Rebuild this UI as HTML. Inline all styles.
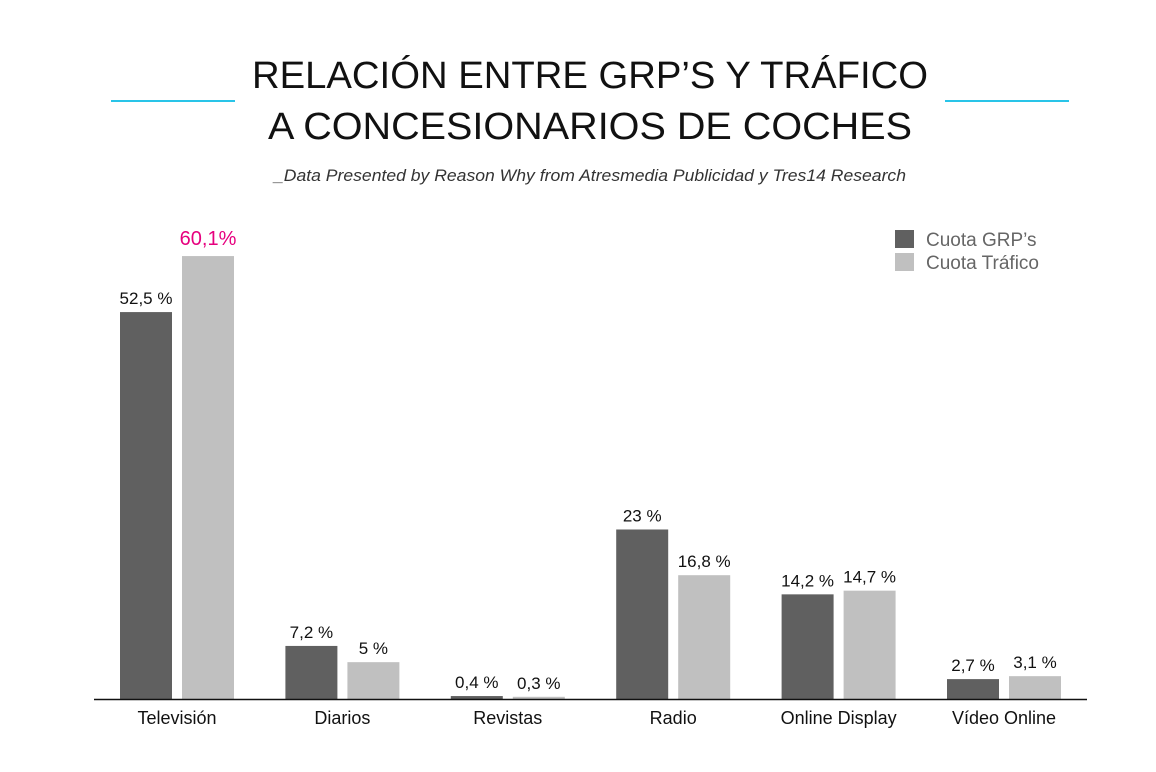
<!DOCTYPE html>
<html><head><meta charset="utf-8"><style>
body{margin:0;background:#fff;width:1156px;height:767px;overflow:hidden;font-family:"Liberation Sans",sans-serif}
</style></head><body>
<svg width="1156" height="767" xmlns="http://www.w3.org/2000/svg">
<g font-family="Liberation Sans, sans-serif" font-size="38" fill="#111" text-anchor="middle">
<text x="590" y="88" textLength="676" lengthAdjust="spacingAndGlyphs">RELACIÓN ENTRE GRP’S Y TRÁFICO</text>
<text x="590" y="139" textLength="644" lengthAdjust="spacingAndGlyphs">A CONCESIONARIOS DE COCHES</text>
</g>
<line x1="111" y1="101" x2="235" y2="101" stroke="#29c4e8" stroke-width="2"/>
<line x1="945" y1="101" x2="1069" y2="101" stroke="#29c4e8" stroke-width="2"/>
<text x="590" y="181" text-anchor="middle" font-size="17" font-style="italic" fill="#333" textLength="632" lengthAdjust="spacingAndGlyphs">_Data Presented by Reason Why from Atresmedia Publicidad y Tres14 Research</text>
<g>
<rect x="895" y="230" width="19" height="18" fill="#606060"/>
<text x="926" y="246" font-size="19" fill="#666">Cuota GRP’s</text>
<rect x="895" y="253" width="19" height="18" fill="#c0c0c0"/>
<text x="926" y="269" font-size="19" fill="#666">Cuota Tráfico</text>
</g>
<g id="bars"></g>
<line x1="94" y1="699.5" x2="1087" y2="699.5" stroke="#111" stroke-width="1.5"/>
</svg>
<script>
const categories=["Televisión","Diarios","Revistas","Radio","Online Display","Vídeo Online"];
const grp=[52.5,7.2,0.4,23,14.2,2.7];
const trafico=[60.1,5,0.3,16.8,14.7,3.1];
const grpLabels=["52,5 %","7,2 %","0,4 %","23 %","14,2 %","2,7 %"];
const traficoLabels=["60,1%","5 %","0,3 %","16,8 %","14,7 %","3,1 %"];
const NS="http://www.w3.org/2000/svg";
const g=document.getElementById('bars');
const base=699, scale=7.37;
function y(v){return base-v*scale;}
function cx(i){return 177+i*165.4;}
function mk(t,a){const e=document.createElementNS(NS,t);for(const k in a)e.setAttribute(k,a[k]);g.appendChild(e);return e;}
categories.forEach((c,i)=>{
  const x=cx(i);
  const b1=mk('rect',{x:x-57,y:y(grp[i]),width:52,height:grp[i]*scale,fill:'#606060'});
  
  
  const b2=mk('rect',{x:x+5,y:y(trafico[i]),width:52,height:trafico[i]*scale,fill:'#c0c0c0'});
  
  
  const l1=mk('text',{x:x-31,y:y(grp[i])-8,'text-anchor':'middle','font-size':'17',fill:'#111'});
  l1.textContent=grpLabels[i];
  
  
  const hi=i===0;
  const l2=mk('text',{x:x+31,y:y(trafico[i])-(hi?11:8),'text-anchor':'middle','font-size':hi?'20':'17',fill:hi?'#e6007e':'#111'});
  l2.textContent=traficoLabels[i];
  
  
  const cl=mk('text',{x:x,y:724,'text-anchor':'middle','font-size':'18',fill:'#111'});
  cl.textContent=c;
  
  
});
</script>
</body></html>
